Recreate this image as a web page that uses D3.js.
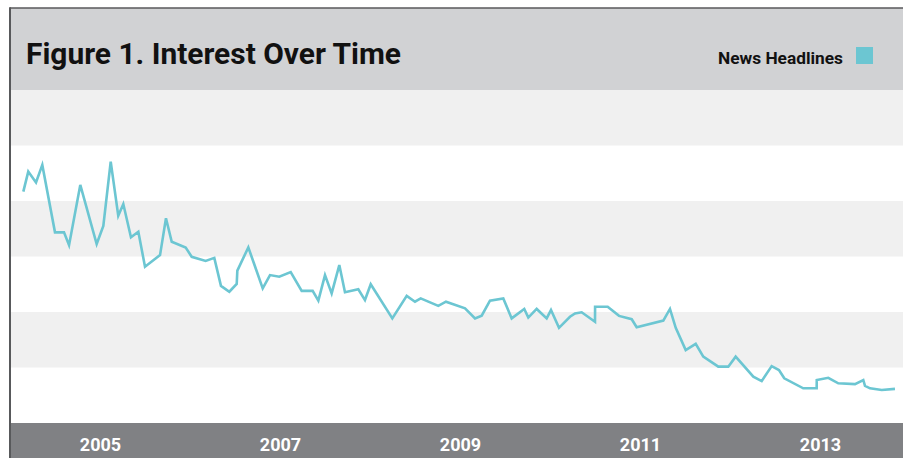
<!DOCTYPE html>
<html>
<head>
<meta charset="utf-8">
<script src="https://cdn.jsdelivr.net/npm/d3@7"></script>
<style>
  html, body { margin: 0; padding: 0; background: #ffffff; }
  svg { display: block; }
  text { font-family: Roboto, "Open Sans", sans-serif; }
</style>
</head>
<body>
<svg id="chart" width="903" height="458"></svg>
<script>
// ---- Data (decimal year, interest value) ----
const title = "Figure 1. Interest Over Time";
const seriesName = "News Headlines";
const tickYears = [2005, 2007, 2009, 2011, 2013];
const bandTicks = [0, 20, 40, 60, 80, 100, 120];

const years = [
  2004.148, 2004.203, 2004.289, 2004.359, 2004.500, 2004.600, 2004.656, 2004.781, 2004.963, 2005.037,
  2005.119, 2005.203, 2005.259, 2005.344, 2005.426, 2005.500, 2005.667, 2005.733, 2005.797, 2005.952,
  2006.019, 2006.174, 2006.270, 2006.344, 2006.437, 2006.519, 2006.526, 2006.648, 2006.808, 2006.889,
  2006.992, 2007.119, 2007.241, 2007.363, 2007.426, 2007.500, 2007.574, 2007.659, 2007.722, 2007.870,
  2007.944, 2008.008, 2008.248, 2008.408, 2008.500, 2008.563, 2008.759, 2008.844, 2009.056, 2009.167,
  2009.241, 2009.333, 2009.481, 2009.574, 2009.714, 2009.759, 2009.852, 2009.963, 2010.011, 2010.100,
  2010.222, 2010.278, 2010.352, 2010.500, 2010.501, 2010.641, 2010.767, 2010.908, 2010.963, 2011.259,
  2011.333, 2011.397, 2011.508, 2011.619, 2011.703, 2011.870, 2011.981, 2012.063, 2012.259, 2012.352,
  2012.463, 2012.544, 2012.603, 2012.814, 2012.963, 2012.964, 2013.092, 2013.203, 2013.389, 2013.481,
  2013.500, 2013.556, 2013.686, 2013.833
];
const values = [
  83.4, 90.6, 86.7, 93.0, 68.7, 68.7, 64.1, 85.8, 64.5, 71.0,
  94.2, 74.7, 78.9, 66.9, 68.9, 56.3, 60.5, 73.8, 65.3, 63.2,
  59.9, 58.4, 59.5, 49.4, 47.3, 50.1, 54.9, 63.3, 48.5, 53.3,
  52.7, 54.4, 47.6, 47.6, 44.1, 53.3, 46.7, 56.9, 47.1, 48.2,
  44.3, 50.0, 37.7, 45.8, 43.7, 44.9, 42.2, 43.7, 41.3, 37.7,
  38.7, 44.1, 44.9, 37.7, 41.1, 38.0, 41.1, 37.7, 40.7, 34.3,
  38.3, 39.5, 39.9, 36.5, 41.9, 41.9, 38.6, 37.4, 34.5, 36.9,
  41.1, 34.3, 26.3, 28.5, 23.9, 20.3, 20.3, 23.9, 16.7, 15.1,
  20.5, 19.1, 16.1, 12.5, 12.5, 15.5, 16.3, 14.3, 14.0, 15.5,
  13.4, 12.5, 11.9, 12.3
];

// ---- Layout ----
const W = 903, H = 458;
const frameLeft = 10, frameTop = 8;
const headerBottom = 90, plotBottom = 423;
const colors = {
  header: "#d1d2d4", band: "#f0f0f0", axis: "#808184",
  border: "#58595b", line: "#6cc6d2", title: "#111111"
};

const svg = d3.select("#chart");
const x = d3.scaleLinear().domain([2004, 2014]).range([frameLeft, 910]);
const y = d3.scaleLinear().domain([0, 120]).range([plotBottom, headerBottom]);

// Header
svg.append("rect").attr("x", frameLeft).attr("y", frameTop)
  .attr("width", W - frameLeft).attr("height", headerBottom - frameTop)
  .attr("fill", colors.header);

// Bands
const bands = d3.range(bandTicks.length - 1).map(i => [bandTicks[i], bandTicks[i + 1]]);
svg.append("g").selectAll("rect").data(bands).join("rect")
  .attr("x", frameLeft).attr("width", W - frameLeft)
  .attr("y", d => y(d[1])).attr("height", d => y(d[0]) - y(d[1]))
  .attr("fill", (d, i) => i % 2 === 1 ? colors.band : "#ffffff");

// Axis band
svg.append("rect").attr("x", frameLeft).attr("y", plotBottom)
  .attr("width", W - frameLeft).attr("height", H - plotBottom)
  .attr("fill", colors.axis);

// Line
const pts = years.map((yr, i) => [yr, values[i]]);
const line = d3.line().x(d => x(d[0])).y(d => y(d[1]));
svg.append("path").datum(pts)
  .attr("d", line)
  .attr("fill", "none")
  .attr("stroke", colors.line)
  .attr("stroke-width", 2.6)
  .attr("stroke-linejoin", "miter");

// X axis labels
const xAxis = d3.axisBottom(x).tickValues(tickYears).tickFormat(d3.format("d")).tickSize(0).tickPadding(0);
const gx = svg.append("g").attr("transform", `translate(0,${plotBottom})`).call(xAxis);
gx.select(".domain").remove();
gx.selectAll("text")
  .attr("y", 28).attr("dy", null)
  .attr("fill", "#ffffff")
  .style("font-family", "Roboto, sans-serif")
  .style("font-size", "18px")
  .style("font-weight", "700");

// Frame borders
svg.append("line").attr("x1", frameLeft).attr("x2", W).attr("y1", frameTop).attr("y2", frameTop)
  .attr("stroke", colors.border).attr("stroke-width", 1.5);
svg.append("line").attr("x1", frameLeft).attr("x2", frameLeft).attr("y1", frameTop - 0.75).attr("y2", H)
  .attr("stroke", colors.border).attr("stroke-width", 2);

// Title
const t = svg.append("text").attr("x", 26).attr("y", 64)
  .attr("fill", colors.title)
  .style("font-size", "29px").style("font-weight", "700")
  .text(title);
const tw = t.node().getComputedTextLength();
if (tw > 0) t.attr("textLength", 375).attr("lengthAdjust", "spacingAndGlyphs");

// Legend
const lg = svg.append("text").attr("x", 843).attr("y", 64)
  .attr("text-anchor", "end")
  .attr("fill", colors.title)
  .style("font-size", "17px").style("font-weight", "700")
  .text(seriesName);
lg.attr("textLength", 125).attr("lengthAdjust", "spacingAndGlyphs");
svg.append("rect").attr("x", 856).attr("y", 47).attr("width", 17).attr("height", 17)
  .attr("fill", colors.line);
</script>
</body>
</html>
